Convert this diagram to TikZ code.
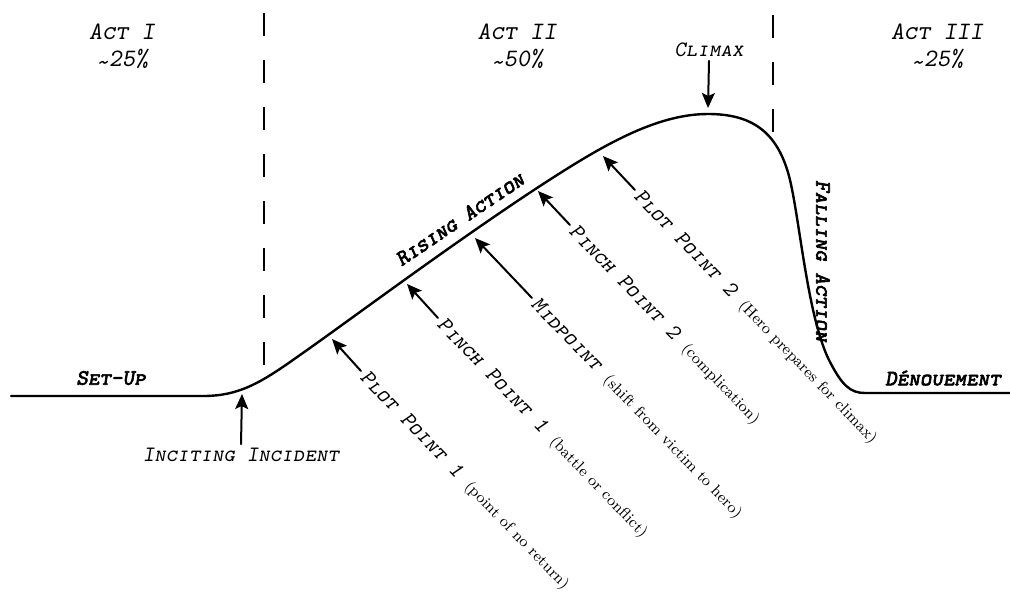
\documentclass[tikz,border=0pt]{standalone}
\usepackage{fontspec}
\usetikzlibrary{arrows.meta}
\newfontfamily\capfont{lmmonocaps10-oblique.otf}
\newfontfamily\boldcapfont[FakeBold=3]{lmmonocaps10-oblique.otf}
\newcommand{\aside}[1]{\hspace{6pt}{\rmfamily\fontsize{7.8}{9}\selectfont #1}}
\newcommand{\approxsign}{\raisebox{-0.35ex}{\textasciitilde}}
\begin{document}
\begin{tikzpicture}[x=0.5pt, y=-0.5pt, line cap=round, line join=round,
    act/.style={font=\capfont\fontsize{12.5}{13.5}\selectfont, align=center, inner sep=0pt},
    beat/.style={font=\capfont\fontsize{11}{13}\selectfont, inner sep=2pt, text height=6.5pt, text depth=0pt},
    phase/.style={font=\boldcapfont\fontsize{11}{13}\selectfont, inner sep=0pt},
    curve/.style={line width=1.2pt},
    divider/.style={line width=1pt, line cap=butt, dash pattern=on 11.5pt off 12pt},
    arr/.style={line width=1pt, -{Stealth[length=7.5pt, width=6.5pt, inset=1.5pt]}}]
  \useasboundingbox (0,0) rectangle (1010,591);
  % act headings and dividers
  \node[act] (act1) at (122,47) {Act I\\\approxsign25\%};
  \node[act] (act2) at (517,47) {Act II\\\approxsign50\%};
  \node[act] (act3) at (937,47) {Act III\\\approxsign25\%};
  \draw[divider] (264,13) -- (264,365);
  \draw[divider] (773,15) -- (773,132);
  % story curve
  \draw[curve] (11,396) -- (203,396)
    .. controls (240,396) and (262,382) .. (300,355)
    .. controls (350,320) and (450,245) .. (540,186)
    .. controls (600,147) and (655,114) .. (708,114)
    .. controls (750,114) and (778,130) .. (790,180)
    .. controls (800,222) and (808,320) .. (830,362)
    .. controls (842,385) and (850,393) .. (865,393) -- (1010,393);
  % phases
  \node[phase] (setup) at (111,378) {Set-Up};
  \node[phase, rotate=34] (rising) at (460,219) {Rising Action};
  \node[phase, rotate=-90] (falling) at (823,261) {Falling Action};
  \node[phase] (denouement) at (943,378) {Dénouement};
  % beats along the curve
  \node[beat] (inciting) at (241,455) {Inciting Incident};
  \coordinate (incitingtip) at (242,394);
  \draw[arr] (inciting.north) -- (incitingtip);
  \node[beat] (climax) at (709,50) {Climax};
  \coordinate (climaxtip) at (708,108);
  \draw[arr] (climax.south) -- (climaxtip);
  \node[beat, rotate=-46, anchor=west] (plot1) at (361,371) {Plot Point 1\aside{(point of no return)}};
  \coordinate (plot1tip) at (332,339);
  \draw[arr] (plot1.west) -- (plot1tip);
  \node[beat, rotate=-46, anchor=west] (pinch1) at (438,318) {Pinch Point 1\aside{(battle or conflict)}};
  \coordinate (pinch1tip) at (407,284);
  \draw[arr] (pinch1.west) -- (pinch1tip);
  \node[beat, rotate=-46, anchor=west] (midpoint) at (532,298) {Midpoint\aside{(shift from victim to hero)}};
  \coordinate (midpointtip) at (475,238);
  \draw[arr] (midpoint.west) -- (midpointtip);
  \node[beat, rotate=-46, anchor=west] (pinch2) at (570,225) {Pinch Point 2\aside{(complication)}};
  \coordinate (pinch2tip) at (538,191);
  \draw[arr] (pinch2.west) -- (pinch2tip);
  \node[beat, rotate=-46, anchor=west] (plot2) at (635,190) {Plot Point 2\aside{(Hero prepares for climax)}};
  \coordinate (plot2tip) at (603,156);
  \draw[arr] (plot2.west) -- (plot2tip);
\end{tikzpicture}
\end{document}
